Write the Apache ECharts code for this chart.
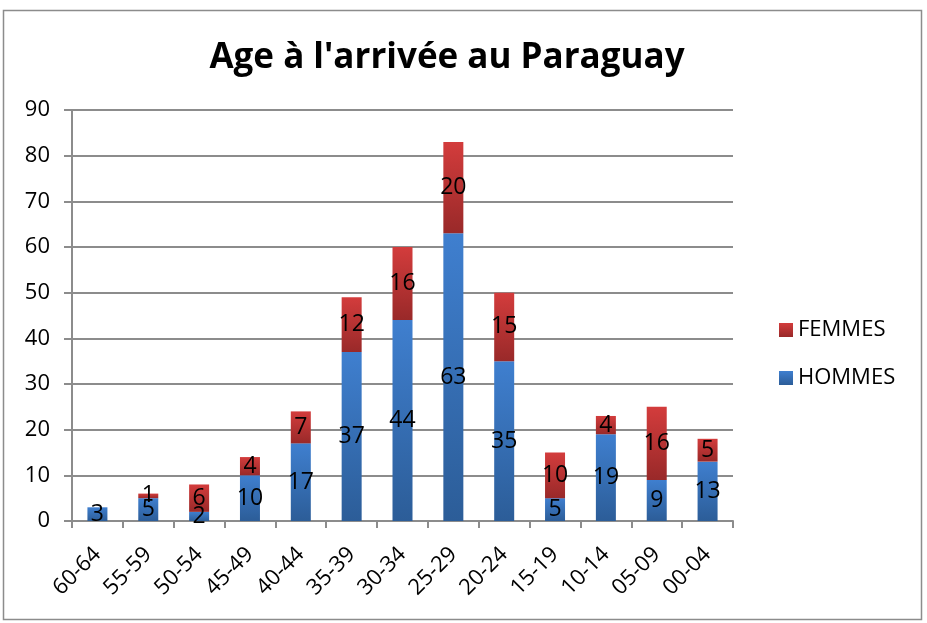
<!DOCTYPE html>
<html>
<head>
<meta charset="utf-8">
<script src="https://cdn.jsdelivr.net/npm/echarts@6/dist/echarts.min.js"></script>
<style>
  html, body { margin: 0; padding: 0; background: #fff; }
  #chart { width: 927px; height: 623px; }
</style>
</head>
<body>
<div id="chart"></div>
<script>
let categories = ['60-64', '55-59', '50-54', '45-49', '40-44', '35-39', '30-34', '25-29', '20-24', '15-19', '10-14', '05-09', '00-04'];
let hommes = [3, 5, 2, 10, 17, 37, 44, 63, 35, 5, 19, 9, 13];
let femmes = [0, 1, 6, 4, 7, 12, 16, 20, 15, 10, 4, 16, 5];

let font = '"Open Sans", sans-serif';

let grad = (top, bottom) => new echarts.graphic.LinearGradient(0, 0, 0, 1, [
    { offset: 0, color: top },
    { offset: 1, color: bottom }
]);

let blue = grad('#3f7fcf', '#2c5d98');
let red = grad('#d33c3c', '#992929');

let labelStyle = {
    show: true,
    position: 'inside',
    color: '#000',
    fontSize: 23,
    fontFamily: font,
    formatter: p => p.value === 0 ? '' : p.value
};

let chart = echarts.init(document.getElementById('chart'));

chart.setOption({
    animation: false,
    graphic: [
        {
            type: 'rect',
            shape: { x: 3.5, y: 10.5, width: 918, height: 609 },
            style: { fill: 'none', stroke: '#8c8c8c', lineWidth: 1.5 },
            z: -1
        }
    ],
    title: {
        text: "Age à l'arrivée au Paraguay",
        left: 442,
        textAlign: 'center',
        top: 36,
        textStyle: { fontFamily: font, fontWeight: 'bold', fontSize: 35, color: '#000' }
    },
    legend: {
        orient: 'vertical',
        left: 774,
        top: 314,
        itemGap: 26,
        itemWidth: 14,
        itemHeight: 14,
        icon: 'rect',
        data: ['FEMMES', 'HOMMES'],
        textStyle: { fontFamily: font, fontSize: 22, color: '#000' }
    },
    grid: {
        left: 72,
        right: 194,
        top: 110,
        bottom: 102
    },
    xAxis: {
        type: 'category',
        data: categories,
        axisLine: { lineStyle: { color: '#8c8c8c', width: 2 } },
        axisTick: { show: true, length: 7, lineStyle: { color: '#8c8c8c', width: 2 } },
        axisLabel: {
            rotate: 45,
            interval: 0,
            margin: 30,
            color: '#000',
            fontSize: 22,
            fontFamily: font
        }
    },
    yAxis: {
        type: 'value',
        min: 0,
        max: 90,
        interval: 10,
        axisLine: { show: true, lineStyle: { color: '#8c8c8c', width: 2 } },
        axisTick: { show: true, length: 8, lineStyle: { color: '#8c8c8c', width: 2 } },
        splitLine: { lineStyle: { color: '#8c8c8c', width: 2 } },
        axisLabel: { color: '#000', fontSize: 22, fontFamily: font, margin: 22 }
    },
    series: [
        {
            name: 'HOMMES',
            type: 'bar',
            stack: 'total',
            barWidth: 20,
            itemStyle: { color: blue },
            label: labelStyle,
            data: hommes
        },
        {
            name: 'FEMMES',
            type: 'bar',
            stack: 'total',
            barWidth: 20,
            itemStyle: { color: red },
            label: labelStyle,
            data: femmes
        }
    ]
});
</script>
</body>
</html>
